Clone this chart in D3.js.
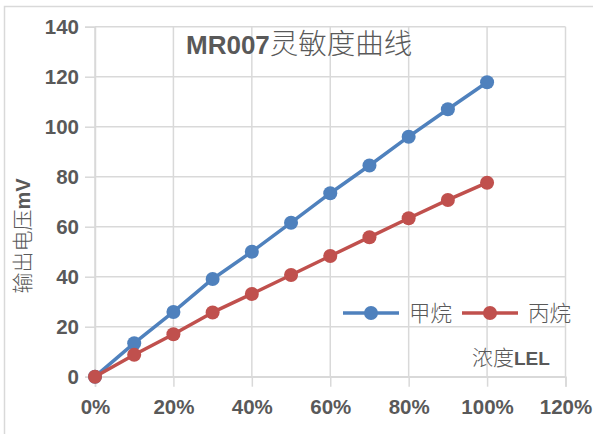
<!DOCTYPE html>
<html><head><meta charset="utf-8">
<script src="https://cdn.jsdelivr.net/npm/d3@7"></script>
<style>
body{margin:0;background:#fff;}
text{font-family:"Liberation Sans","Noto Sans CJK SC",sans-serif;}
</style></head>
<body><svg id="c" width="593" height="434"></svg>
<script>
const concentration = [0, 0.1, 0.2, 0.3, 0.4, 0.5, 0.6, 0.7, 0.8, 0.9, 1.0];
const methane = [0, 13.4, 25.9, 39.1, 50, 61.6, 73.4, 84.5, 96, 107, 117.8];
const propane = [0, 8.8, 17, 25.7, 33.1, 40.7, 48.3, 55.8, 63.4, 70.7, 77.6];
const seriesNames = ["甲烷", "丙烷"];
const seriesColors = ["#4f81bd", "#c0504d"];
const xTicks = [0, 0.2, 0.4, 0.6, 0.8, 1.0, 1.2];
const yTicks = [0, 20, 40, 60, 80, 100, 120, 140];

const svg = d3.select("#c");
const gray = "#d9d9d9", txt = "#595959";
const cjk = "'Noto Sans CJK SC',sans-serif";
// outer chart border
svg.append("rect").attr("x",4.5).attr("y",6.5).attr("width",600).attr("height",440)
  .attr("fill","none").attr("stroke",gray).attr("stroke-width",1.5);

const x = d3.scaleLinear().domain([0,1.2]).range([95,565.5]);
const y = d3.scaleLinear().domain([0,140]).range([376.7,26.7]);

// gridlines
svg.append("g").selectAll("line").data(yTicks).join("line")
  .attr("x1",x(0)).attr("x2",x(1.2)).attr("y1",d=>y(d)).attr("y2",d=>y(d))
  .attr("stroke",gray).attr("stroke-width",1.5);
svg.append("g").selectAll("line").data(xTicks).join("line")
  .attr("y1",y(0)).attr("y2",y(140)).attr("x1",d=>x(d)).attr("x2",d=>x(d))
  .attr("stroke",gray).attr("stroke-width",1.5);

// axes
const yAxis = svg.append("g").attr("transform",`translate(${x(0)},0)`)
  .call(d3.axisLeft(y).tickValues(yTicks).tickSize(10).tickPadding(6));
const xAxis = svg.append("g").attr("transform",`translate(0,${y(0)})`)
  .call(d3.axisBottom(x).tickValues(xTicks).tickSize(10).tickPadding(14).tickFormat(d3.format(".0%")));
[yAxis,xAxis].forEach(a=>{
  a.select(".domain").attr("stroke",gray).attr("stroke-width",1.5);
  a.selectAll(".tick line").attr("stroke",gray).attr("stroke-width",1.5);
  a.selectAll(".tick text").attr("fill",txt).attr("font-size",20.5).attr("font-weight","bold")
   .attr("font-family","'Liberation Sans',sans-serif");
});
xAxis.selectAll(".tick text").attr("dy","0.66em");

// lines
const data = [methane, propane];
const line = d3.line().x((d,i)=>x(concentration[i])).y(d=>y(d));
data.forEach((s,k)=>{
  svg.append("path").datum(s).attr("d",line).attr("fill","none")
    .attr("stroke",seriesColors[k]).attr("stroke-width",3.5).attr("stroke-linejoin","round");
  svg.append("g").selectAll("circle").data(s).join("circle")
    .attr("cx",(d,i)=>x(concentration[i])).attr("cy",d=>y(d)).attr("r",7)
    .attr("fill",seriesColors[k]);
});

// title
const t = svg.append("text").attr("x",186).attr("y",54).attr("fill",txt);
t.append("tspan").text("MR007").attr("font-weight","bold").attr("font-size",26);
t.append("tspan").text("灵敏度曲线").attr("font-size",28.5).attr("font-weight",300).attr("font-family",cjk);

// y axis title
const yt = svg.append("text").attr("transform","translate(30,236) rotate(-90)")
  .attr("text-anchor","middle").attr("fill",txt);
yt.append("tspan").text("输出电压").attr("font-size",21).attr("font-weight",300).attr("font-family",cjk);
yt.append("tspan").text("mV").attr("font-size",20).attr("font-weight","bold");

// x axis title
const xt = svg.append("text").attr("x",472).attr("y",365).attr("fill",txt);
xt.append("tspan").text("浓度").attr("font-size",21).attr("font-weight",300).attr("font-family",cjk);
xt.append("tspan").text("LEL").attr("font-size",19).attr("font-weight","bold");

// legend
const legX = [343, 462];
seriesNames.forEach((n,k)=>{
  const g = svg.append("g").attr("transform",`translate(${legX[k]},313)`);
  g.append("line").attr("x1",0).attr("x2",56).attr("stroke",seriesColors[k]).attr("stroke-width",3.5);
  g.append("circle").attr("cx",28).attr("r",7).attr("fill",seriesColors[k]);
  g.append("text").attr("x",66).attr("y",8).text(n).attr("fill",txt).attr("font-size",21.5)
    .attr("font-weight",300).attr("font-family",cjk);
});
</script></body></html>
